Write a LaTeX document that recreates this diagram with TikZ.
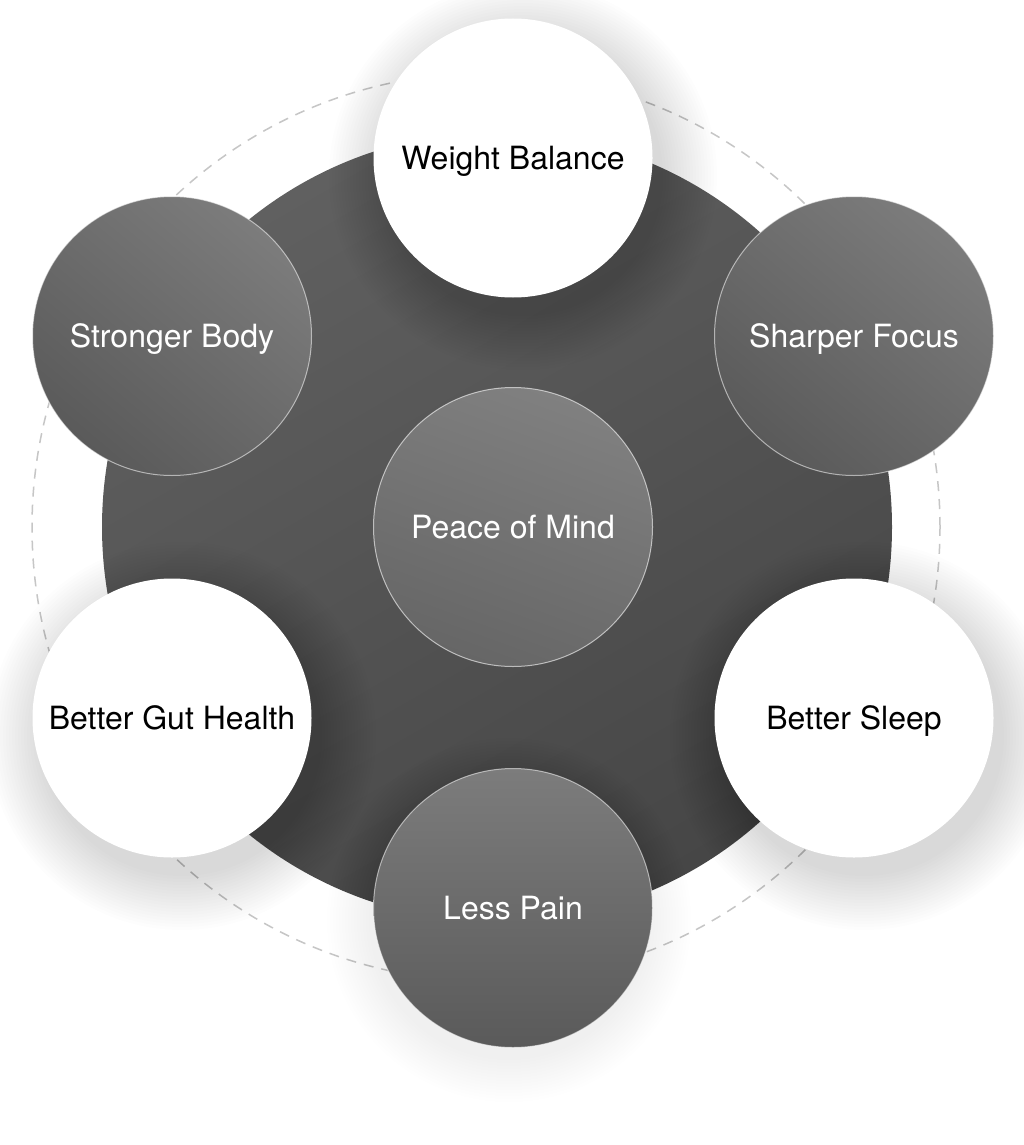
\documentclass[tikz,border=0pt]{standalone}
\usepackage{fontspec}
\setmainfont{TeX Gyre Heros}
\definecolor{ringgray}{RGB}{198, 198, 198}
\definecolor{hubdark}{RGB}{70, 70, 70}
\definecolor{hublight}{RGB}{96, 96, 96}
\definecolor{balldark}{RGB}{90, 90, 90}
\definecolor{balllight}{RGB}{124, 124, 124}
\definecolor{mindlight}{RGB}{128, 128, 128}
\definecolor{minddark}{RGB}{102, 102, 102}
\usetikzlibrary{shapes, backgrounds, positioning}
\tikzset{
	ball/.style={circle,minimum size=139.5pt,inner sep=0pt,
		font=\fontsize{16}{18}\selectfont,text height=11.5pt,text depth=0pt},
	ballshadow/.style={fill=black,opacity=#1},
	ballshadow/.default=0.0065,
}

\begin{document}
\begin{tikzpicture}[x=0.5pt,y=-0.5pt,
		lightball/.style={ball,fill=white,text=black},
		darkball/.style={ball,top color=balllight,bottom color=balldark,shading angle=-40,
			draw=white,draw opacity=0.55,line width=0.5pt,text=white},
		midball/.style={ball,top color=mindlight,bottom color=minddark,shading angle=-20,
			draw=white,draw opacity=0.6,line width=0.5pt,text=white}]
	\fill[white] (0,0) rectangle (1023,1145);
	\useasboundingbox (0,0) rectangle (1023,1145);
	% centres of the balls
	\coordinate (c-weight) at (513,158);
	\coordinate (c-body) at (172,336);
	\coordinate (c-focus) at (854,336);
	\coordinate (c-mind) at (513,527);
	\coordinate (c-gut) at (172,718);
	\coordinate (c-sleep) at (854,718);
	\coordinate (c-pain) at (513,908);
	% outer dashed ring and the big disc
	\node[circle,minimum size=454pt,inner sep=0pt,draw=ringgray,line width=0.75pt,
		dash pattern=on 5pt off 4pt] (ring) at (486,527) {};
	\node[circle,minimum size=395pt,inner sep=0pt,top color=hublight,bottom color=hubdark,
		shading angle=30] (hub) at (497,527) {};
	% soft shadows, built up from faint discs
	\foreach \c in {weight,gut,sleep}
		\foreach \r in {140,143,...,196}
			\fill[ballshadow] ([shift={(10,18)}]c-\c) circle[radius=\r];
	\foreach \r in {140,143,...,182}
		\fill[ballshadow=0.004] ([shift={(-4,12)}]c-pain) circle[radius=\r];
	% the seven balls
	\node[lightball] (weight) at (c-weight) {Weight Balance};
	\node[darkball] (body) at (c-body) {Stronger Body};
	\node[darkball] (focus) at (c-focus) {Sharper Focus};
	\node[midball] (mind) at (c-mind) {Peace of Mind};
	\node[lightball] (gut) at (c-gut) {Better Gut Health};
	\node[lightball] (sleep) at (c-sleep) {Better Sleep};
	\node[darkball,shading angle=0] (pain) at (c-pain) {Less Pain};
\end{tikzpicture}
\end{document}
